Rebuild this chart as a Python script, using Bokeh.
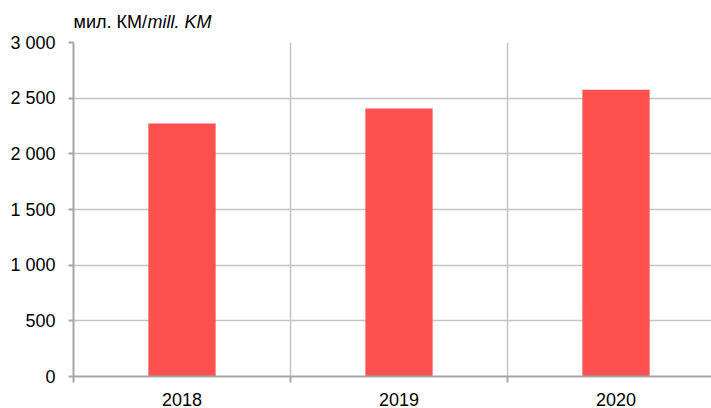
from bokeh.plotting import figure
from bokeh.models import Range1d, FixedTicker, Label, ColumnDataSource
from bokeh.embed import file_html
from bokeh.resources import INLINE

years = ["2018", "2019", "2020"]
values = [2272, 2407, 2575]
y_ticks = [0, 500, 1000, 1500, 2000, 2500, 3000]
y_tick_labels = ["0", "500", "1 000", "1 500", "2 000", "2 500", "3 000"]
unit_plain = "мил. КМ/"
unit_italic = "mill. KM"

FONT = "Liberation Sans"
GRID = "#c4c4c4"
AXIS = "#a6a6a6"

centers = [i + 0.5 for i in range(len(years))]
bounds = [i for i in range(len(years) + 1)]

p = figure(output_backend="svg", toolbar_location=None,
           frame_width=638, frame_height=334,
           min_border_left=73, min_border_top=42, min_border_right=0, min_border_bottom=0,
           x_range=Range1d(0, 638 / 217), y_range=Range1d(0, 3000))
p.outline_line_color = None

src = ColumnDataSource(dict(x=centers, top=values))
p.vbar(x="x", top="top", width=0.31, bottom=0, source=src,
       fill_color="#FF5050", line_color=None)

# y axis
p.yaxis.ticker = FixedTicker(ticks=y_ticks)
p.yaxis.major_label_overrides = {t: l for t, l in zip(y_ticks, y_tick_labels)}
p.yaxis.axis_line_color = AXIS
p.yaxis.axis_line_width = 2
p.yaxis.major_tick_line_color = AXIS
p.yaxis.major_tick_line_width = 2
p.yaxis.major_tick_out = 5
p.yaxis.major_tick_in = 0
p.yaxis.minor_tick_line_color = None
p.yaxis.major_label_standoff = 13
p.yaxis.major_label_text_font = FONT
p.yaxis.major_label_text_font_size = "18px"
p.yaxis.major_label_text_color = "#000000"

# x axis
p.xaxis.ticker = FixedTicker(ticks=centers, minor_ticks=bounds)
p.xaxis.major_label_overrides = {c: y for c, y in zip(centers, years)}
p.xaxis.axis_line_color = AXIS
p.xaxis.axis_line_width = 2
p.xaxis.major_tick_line_color = None
p.xaxis.major_tick_out = 0
p.xaxis.major_tick_in = 0
p.xaxis.minor_tick_line_color = AXIS
p.xaxis.minor_tick_line_width = 2
p.xaxis.minor_tick_out = 6
p.xaxis.minor_tick_in = 0
p.xaxis.major_label_standoff = 10
p.xaxis.major_label_text_font = FONT
p.xaxis.major_label_text_font_size = "18px"
p.xaxis.major_label_text_color = "#000000"

# grids
p.ygrid.ticker = FixedTicker(ticks=y_ticks)
p.ygrid.grid_line_color = GRID
p.ygrid.grid_line_width = 1.5
p.xgrid.ticker = FixedTicker(ticks=bounds)
p.xgrid.grid_line_color = GRID
p.xgrid.grid_line_width = 1.5

# unit label (placed in the top panel so it is not clipped by the frame;
# each label gets its own stacked slot, so the offsets bring both onto one line)
l1 = Label(x=0, y=11, x_units="screen", y_units="screen", text=unit_plain,
           text_font=FONT, text_font_size="18px", text_color="#000000")
l2 = Label(x=74, y=-9, x_units="screen", y_units="screen", text=unit_italic,
           text_font=FONT, text_font_size="18px", text_font_style="italic",
           text_color="#000000")
p.add_layout(l1, "above")
p.add_layout(l2, "above")

open("out.html", "w").write(file_html(p, INLINE))
